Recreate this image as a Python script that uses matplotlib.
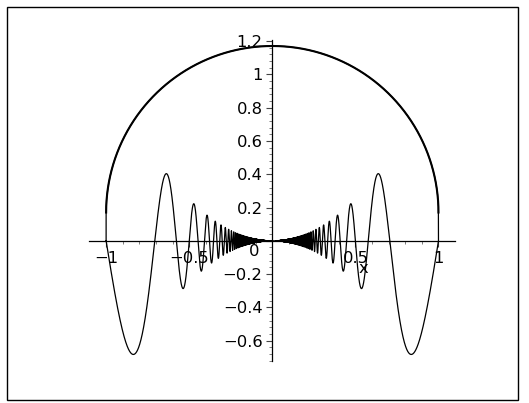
import numpy as np
import matplotlib
matplotlib.use("Agg")
import matplotlib.pyplot as plt
from matplotlib.patches import Rectangle

# plotted expressions (Maple style plot): x^2*sin(Pi/x^2) and a lifted half circle
x_lo, x_hi = -1.0, 1.0
n_samples = 400000
arc_lift = 0.17

x_ticks = [-1, -0.5, 0.5, 1]
x_ticklabels = ["\u22121", "\u22120.5", "0.5", "1"]
y_ticks = [-0.6, -0.4, -0.2, 0, 0.2, 0.4, 0.6, 0.8, 1, 1.2]
y_ticklabels = ["\u22120.6", "\u22120.4", "\u22120.2", "", "0.2", "0.4", "0.6", "0.8", "1", "1.2"]

x = np.linspace(x_lo, x_hi, n_samples)  # even count, so x=0 is skipped
wave = x**2 * np.sin(np.pi / x**2)
arc = arc_lift + np.sqrt(np.clip(1 - x**2, 0, None))

# one closed outline: wave left->right, arc right->left
path_x = np.concatenate([x, x[::-1], x[:1]])
path_y = np.concatenate([wave, arc[::-1], wave[:1]])

plt.rcParams["font.family"] = ["DejaVu Sans"]
fs = 11.8

fig = plt.figure(figsize=(5.29, 4.03), dpi=100)
W, H = 529.0, 403.0
ax = fig.add_axes([89.5 / W, (H - 360.7) / H, (455.1 - 89.5) / W, (360.7 - 40.0) / H])
ax.set_xlim(-1.1, 1.1)
ax.set_ylim(-0.72, 1.206)

ax.plot(path_x, path_y, color="black", lw=0.9)
ax.plot(x, arc, color="black", lw=1.5)

for s in ["top", "right"]:
    ax.spines[s].set_visible(False)
ax.spines["left"].set_position(("data", 0))
ax.spines["bottom"].set_position(("data", 0))
ax.spines["left"].set_linewidth(0.9)
ax.spines["bottom"].set_linewidth(0.9)

ax.set_xticks(x_ticks)
ax.set_xticklabels(x_ticklabels, fontsize=fs)
ax.set_yticks(y_ticks)
ax.set_yticklabels(y_ticklabels, fontsize=fs)
ax.set_xticks(np.arange(-1.0, 1.05, 0.1), minor=True)
ax.set_yticks(np.arange(-0.72, 1.21, 0.04), minor=True)
ax.tick_params(which="major", direction="out", length=4, width=0.8, color="#444444", pad=3)
ax.tick_params(which="minor", direction="out", length=2.5, width=0.6, color="#666666")

# zero label sits below-left of the origin, x label under the axis
ax.text(-0.11, -0.062, "0", fontsize=fs, ha="center", va="center")
ax.text(0.55, -0.168, "x", fontsize=fs, ha="center", va="center")

fig.add_artist(Rectangle((7 / W, 3 / H), 511 / W, 393 / H, transform=fig.transFigure,
                         fill=False, lw=1.0, ec="black"))

fig.savefig("out.png", dpi=100)
